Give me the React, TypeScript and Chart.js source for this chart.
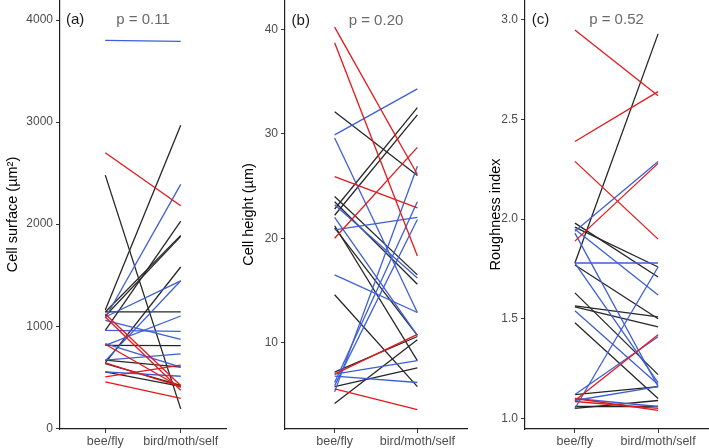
import React, { useEffect, useRef } from 'react';
import { Chart, registerables } from 'chart.js';

Chart.register(...registerables);

// ---------- data ----------
const categories = ['bee/fly', 'bird/moth/self'];

// panel (a) cell surface (µm²)
const surfaceGroup = [
  'red', 'red', 'red', 'red', 'red', 'red', 'red',
  'blue', 'blue', 'blue', 'blue', 'blue', 'blue', 'blue', 'blue', 'blue', 'blue',
  'black', 'black', 'black', 'black', 'black', 'black', 'black', 'black', 'black', 'black', 'black',
];
const surfaceBeeFly = [
  2700, 1120, 1090, 823, 640, 503, 454,
  3800, 1080, 1090, 660, 960, 1057, 813, 667, 553, 830,
  2480, 1160, 960, 1140, 1100, 640, 1140, 813, 667, 634, 553,
];
const surfaceBirdMothSelf = [
  2180, 420, 372, 400, 408, 618, 294,
  3790, 2390, 1445, 1445, 950, 870, 1100, 730, 510, 600,
  190, 2970, 2030, 1890, 1880, 1580, 1140, 810, 600, 420, 410,
];

// panel (b) cell height (µm)
const heightGroup = [
  'red', 'red', 'red', 'red', 'red', 'red',
  'blue', 'blue', 'blue', 'blue', 'blue', 'blue', 'blue', 'blue', 'blue', 'blue', 'blue',
  'black', 'black', 'black', 'black', 'black', 'black', 'black', 'black', 'black', 'black', 'black',
];
const heightBeeFly = [
  40.2, 38.7, 25.9, 20.0, 7.0, 5.6,
  29.9, 29.6, 23.2, 20.8, 16.5, 5.3, 6.2, 5.9, 22.0, 7.0, 6.8,
  32.1, 24.0, 23.5, 22.8, 22.2, 21.2, 21.0, 14.6, 4.2, 5.8, 7.2,
];
const heightBirdMothSelf = [
  26.1, 18.3, 22.9, 28.7, 10.8, 3.6,
  34.3, 12.9, 16.2, 22.0, 12.9, 26.9, 23.5, 21.8, 10.7, 8.3, 6.2,
  26.0, 16.5, 15.6, 32.5, 31.8, 8.3, 10.7, 5.8, 10.3, 7.6, 10.6,
];

// panel (c) roughness index
const roughGroup = [
  'red', 'red', 'red', 'red', 'red', 'red', 'red',
  'blue', 'blue', 'blue', 'blue', 'blue', 'blue', 'blue', 'blue', 'blue', 'blue',
  'black', 'black', 'black', 'black', 'black', 'black', 'black', 'black', 'black', 'black', 'black',
];
const roughBeeFly = [
  2.95, 2.39, 2.29, 1.89, 1.09, 1.085, 1.10,
  1.94, 1.93, 1.95, 1.78, 1.54, 1.05, 1.12, 1.09, 1.10, 1.78,
  1.78, 1.98, 1.96, 1.77, 1.63, 1.565, 1.56, 1.48, 1.12, 1.05, 1.06,
];
const roughBirdMothSelf = [
  2.62, 2.64, 1.90, 2.28, 1.42, 1.05, 1.04,
  2.29, 1.16, 1.62, 1.78, 1.17, 1.76, 1.41, 1.16, 1.06, 1.18,
  2.93, 1.71, 1.76, 1.50, 1.22, 1.51, 1.46, 1.10, 1.16, 1.09, 1.06,
];

const surfaceTicks = [0, 1000, 2000, 3000, 4000];
const heightTicks = [10, 20, 30, 40];
const roughTicks = [1.0, 1.5, 2.0, 2.5, 3.0];

const panelLabels = ['(a)', '(b)', '(c)'];
const pValues = ['p = 0.11', 'p = 0.20', 'p = 0.52'];

// ---------- styles ----------
const palette: Record<string, string> = { red: '#E2191C', blue: '#3D5FD3', black: '#262626' };
const FONT = "'Liberation Sans', Arial, Helvetica, sans-serif";

type PanelProps = {
  left: number;
  width: number;
  group: string[];
  start: number[];
  end: number[];
  yTicks: number[];
  yMin: number;
  yMax: number;
  title: string;
  label: string;
  pText: string;
  annotY: number;
  yAxisWidth: number;
  padRight: number;
  titlePad: number;
  tickDecimals: number;
};

function Panel(p: PanelProps) {
  const ref = useRef<HTMLCanvasElement | null>(null);
  useEffect(() => {
    if (!ref.current) return;
    const annot = {
      id: 'annot',
      afterDraw(chart: any) {
        const ctx = chart.ctx;
        const xs = chart.scales.x;
        const ys = chart.scales.y;
        const y = ys.getPixelForValue(p.annotY);
        ctx.save();
        ctx.textBaseline = 'middle';
        ctx.font = `15px ${FONT}`;
        ctx.fillStyle = '#1a1a1a';
        ctx.textAlign = 'left';
        ctx.fillText(p.label, xs.getPixelForValue(-0.52), y);
        ctx.fillStyle = '#6a6a6a';
        ctx.textAlign = 'center';
        ctx.fillText(p.pText, xs.getPixelForValue(0.5), y);
        ctx.restore();
      },
    };
    const axisGrid = {
      display: true,
      drawOnChartArea: false,
      drawTicks: true,
      tickLength: 4,
      color: '#333333',
      lineWidth: 1,
    };
    const axisBorder = { display: true, color: '#1f1f1f', width: 1.2 };
    const chart = new Chart(ref.current, {
      type: 'line',
      data: {
        datasets: p.start.map((s, i) => ({
          data: [
            { x: 0, y: s },
            { x: 1, y: p.end[i] },
          ],
          borderColor: palette[p.group[i]],
          borderWidth: 1.3,
          pointRadius: 0,
          fill: false,
          tension: 0,
        })),
      },
      options: {
        animation: false,
        responsive: false,
        maintainAspectRatio: false,
        layout: { padding: { left: 0, right: p.padRight, top: 0, bottom: 0 }, autoPadding: false },
        plugins: { legend: { display: false }, tooltip: { enabled: false } },
        scales: {
          x: {
            type: 'linear',
            min: -0.6,
            max: 1.6,
            afterBuildTicks: (s: any) => {
              s.ticks = [{ value: 0 }, { value: 1 }];
            },
            afterFit: (s: any) => {
              s.height = 19;
              s.paddingLeft = 0;
              s.paddingRight = 0;
            },
            ticks: {
              autoSkip: false,
              maxRotation: 0,
              padding: 1,
              color: '#4D4D4D',
              font: { size: 12.5, family: FONT },
              callback: (v: any) => categories[Math.round(Number(v))],
            },
            grid: axisGrid,
            border: axisBorder,
          },
          y: {
            type: 'linear',
            min: p.yMin,
            max: p.yMax,
            afterBuildTicks: (s: any) => {
              s.ticks = p.yTicks.map((v) => ({ value: v }));
            },
            afterFit: (s: any) => {
              s.width = p.yAxisWidth;
              s.paddingTop = 0;
              s.paddingBottom = 0;
            },
            ticks: {
              padding: 3,
              color: '#4D4D4D',
              font: { size: 12, family: FONT },
              callback: (v: any) => Number(v).toFixed(p.tickDecimals),
            },
            grid: axisGrid,
            border: axisBorder,
            title: {
              display: true,
              text: p.title,
              color: '#000000',
              font: { size: 14.5, family: FONT },
              padding: { top: p.titlePad, bottom: 0 },
            },
          },
        },
      } as any,
      plugins: [annot],
    });
    return () => chart.destroy();
  }, []);
  return (
    <div style={{ position: 'absolute', left: p.left, top: 0, width: p.width, height: 448 }}>
      <canvas ref={ref} width={p.width} height={448} style={{ display: 'block', width: p.width, height: 448 }} />
    </div>
  );
}

export default function App() {
  return (
    <div style={{ position: 'absolute', left: 0, top: 0, width: 709, height: 448, background: '#fff', overflow: 'hidden' }}>
      <Panel
        left={0}
        width={230}
        group={surfaceGroup}
        start={surfaceBeeFly}
        end={surfaceBirdMothSelf}
        yTicks={surfaceTicks}
        yMin={-7}
        yMax={4196}
        title="Cell surface (µm²)"
        label={panelLabels[0]}
        pText={pValues[0]}
        annotY={4000}
        yAxisWidth={60}
        padRight={4}
        titlePad={4}
        tickDecimals={0}
      />
      <Panel
        left={230}
        width={240}
        group={heightGroup}
        start={heightBeeFly}
        end={heightBirdMothSelf}
        yTicks={heightTicks}
        yMin={1.75}
        yMax={42.8}
        title="Cell height (µm)"
        label={panelLabels[1]}
        pText={pValues[1]}
        annotY={40.8}
        yAxisWidth={55}
        padRight={3}
        titlePad={10}
        tickDecimals={0}
      />
      <Panel
        left={470}
        width={239}
        group={roughGroup}
        start={roughBeeFly}
        end={roughBirdMothSelf}
        yTicks={roughTicks}
        yMin={0.947}
        yMax={3.1}
        title="Roughness index"
        label={panelLabels[2]}
        pText={pValues[2]}
        annotY={3.0}
        yAxisWidth={55}
        padRight={1}
        titlePad={17}
        tickDecimals={1}
      />
    </div>
  );
}
